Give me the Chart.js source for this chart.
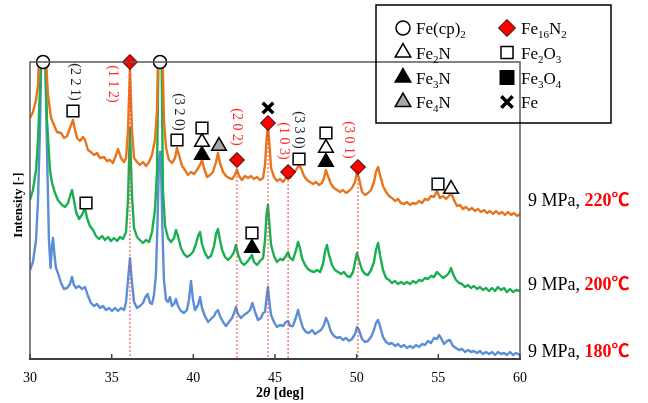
<!DOCTYPE html>
<html>
<head>
<meta charset="utf-8">
<script src="https://cdn.jsdelivr.net/npm/chart.js@4.4.0/dist/chart.umd.min.js"></script>
<style>
html, body { margin: 0; padding: 0; background: #fff; }
#wrap { width: 648px; height: 403px; position: relative; }
</style>
</head>
<body>
<div id="wrap"><canvas id="xrd"></canvas></div>
<script>
var SERIF = "'Liberation Serif', 'Times New Roman', 'Noto Sans CJK JP', serif";

// XRD scans, [2theta (deg), intensity (offset, arb. units)]
var scan220 = [[30.00,241],[30.18,247],[30.37,259],[30.49,274],[30.61,330],[30.80,420],[30.98,300],[31.10,264],[31.29,241],[31.47,234],[31.65,227],[31.90,226],[32.08,221],[32.27,223],[32.45,231],[32.63,239],[32.76,229],[32.88,221],[33.06,218],[33.24,222],[33.37,219],[33.55,209],[33.73,207],[33.92,204],[34.10,206],[34.29,201],[34.53,202],[34.71,198],[34.90,199],[35.08,196],[35.27,204],[35.39,210],[35.57,201],[35.76,197],[35.88,201],[36.00,229],[36.12,291],[36.24,229],[36.37,201],[36.55,197],[36.73,194],[36.92,197],[37.10,193],[37.29,197],[37.47,204],[37.65,219],[37.78,249],[37.87,330],[37.96,420],[38.08,330],[38.20,239],[38.33,211],[38.51,199],[38.69,196],[38.88,201],[39.00,211],[39.12,204],[39.31,193],[39.49,189],[39.67,184],[39.86,187],[40.04,185],[40.22,189],[40.41,194],[40.53,199],[40.65,191],[40.84,182],[41.02,184],[41.20,187],[41.39,197],[41.51,206],[41.63,196],[41.82,187],[42.00,183],[42.18,181],[42.37,180],[42.55,184],[42.67,189],[42.80,183],[42.98,179],[43.16,183],[43.35,181],[43.53,183],[43.71,180],[43.90,182],[44.08,179],[44.27,181],[44.39,194],[44.48,219],[44.57,233],[44.66,214],[44.76,191],[44.94,182],[45.12,178],[45.31,180],[45.49,177],[45.67,181],[45.80,184],[45.92,181],[46.10,185],[46.29,189],[46.47,194],[46.59,191],[46.78,183],[46.96,179],[47.14,177],[47.33,175],[47.51,177],[47.69,174],[47.88,176],[48.00,181],[48.12,189],[48.24,183],[48.43,175],[48.61,171],[48.80,169],[48.98,167],[49.16,169],[49.35,166],[49.53,168],[49.71,171],[49.90,177],[50.02,187],[50.14,181],[50.33,167],[50.51,164],[50.69,166],[50.88,169],[51.06,177],[51.18,187],[51.31,192],[51.43,184],[51.61,173],[51.80,167],[51.98,163],[52.16,161],[52.35,158],[52.53,160],[52.71,156],[52.90,155],[53.08,157],[53.27,154],[53.45,156],[53.63,155],[53.82,158],[54.00,156],[54.18,160],[54.37,159],[54.55,163],[54.73,162],[54.92,168],[55.10,161],[55.29,163],[55.47,160],[55.65,163],[55.78,166],[55.96,159],[56.14,153],[56.33,154],[56.51,150],[56.69,152],[56.88,149],[57.06,151],[57.24,148],[57.43,150],[57.61,147],[57.80,149],[57.98,146],[58.16,148],[58.35,145],[58.53,148],[58.71,145],[58.90,147],[59.08,144],[59.27,147],[59.45,144],[59.63,146],[59.82,143],[60.00,145]];

var scan200 = [[30.00,159],[30.18,169],[30.37,189],[30.49,219],[30.61,269],[30.70,310],[30.80,420],[30.92,310],[31.04,239],[31.22,189],[31.35,176],[31.53,166],[31.71,159],[31.96,154],[32.14,152],[32.33,156],[32.45,163],[32.57,169],[32.69,159],[32.82,147],[33.00,140],[33.18,144],[33.37,151],[33.49,141],[33.67,133],[33.86,129],[34.04,123],[34.22,120],[34.41,123],[34.59,119],[34.78,122],[34.96,118],[35.14,121],[35.33,118],[35.51,122],[35.69,120],[35.88,127],[36.00,159],[36.12,231],[36.24,164],[36.37,131],[36.55,122],[36.73,119],[36.92,116],[37.10,119],[37.29,117],[37.47,127],[37.65,149],[37.78,189],[37.87,310],[37.96,420],[38.05,310],[38.14,169],[38.27,133],[38.45,121],[38.63,117],[38.82,121],[38.94,129],[39.06,123],[39.24,111],[39.43,105],[39.61,102],[39.80,104],[39.98,107],[40.16,115],[40.29,123],[40.41,127],[40.53,115],[40.71,106],[40.90,101],[41.08,103],[41.27,113],[41.39,125],[41.51,130],[41.63,119],[41.76,109],[41.94,102],[42.12,99],[42.31,102],[42.49,107],[42.61,114],[42.73,105],[42.92,97],[43.10,94],[43.29,97],[43.47,101],[43.59,104],[43.71,97],[43.90,94],[44.08,98],[44.27,101],[44.39,119],[44.48,144],[44.57,154],[44.66,134],[44.76,114],[44.94,103],[45.12,97],[45.31,100],[45.49,99],[45.67,103],[45.80,107],[45.92,101],[46.10,99],[46.29,109],[46.41,117],[46.53,111],[46.65,101],[46.84,94],[47.02,90],[47.20,88],[47.39,87],[47.57,89],[47.76,87],[47.94,95],[48.06,107],[48.18,114],[48.31,104],[48.49,94],[48.67,89],[48.86,87],[49.04,85],[49.22,87],[49.41,83],[49.59,82],[49.78,87],[49.90,97],[50.02,106],[50.14,99],[50.33,89],[50.51,85],[50.69,84],[50.88,89],[51.06,97],[51.18,109],[51.31,116],[51.43,104],[51.61,89],[51.80,81],[51.98,79],[52.16,76],[52.35,78],[52.53,75],[52.71,77],[52.90,75],[53.08,77],[53.27,75],[53.45,78],[53.63,76],[53.82,79],[54.00,78],[54.18,81],[54.37,80],[54.55,83],[54.73,82],[54.92,87],[55.10,84],[55.29,81],[55.47,83],[55.65,86],[55.78,91],[55.90,85],[56.08,79],[56.27,76],[56.45,75],[56.63,72],[56.82,74],[57.00,71],[57.18,73],[57.37,70],[57.55,72],[57.73,69],[57.92,71],[58.10,68],[58.29,71],[58.47,68],[58.65,72],[58.84,69],[59.02,71],[59.20,67],[59.39,70],[59.57,67],[59.76,69],[60.00,68]];

var scan180 = [[30.00,89],[30.18,97],[30.37,119],[30.49,159],[30.61,229],[30.70,310],[30.80,420],[30.92,310],[31.04,209],[31.16,119],[31.26,91],[31.35,114],[31.41,121],[31.50,104],[31.59,91],[31.71,86],[31.90,76],[32.08,70],[32.27,71],[32.45,75],[32.57,82],[32.69,74],[32.82,71],[33.00,73],[33.18,70],[33.37,72],[33.55,63],[33.73,56],[33.92,53],[34.10,55],[34.29,51],[34.47,53],[34.65,49],[34.84,51],[35.02,48],[35.20,51],[35.39,48],[35.57,51],[35.76,49],[35.88,57],[36.00,79],[36.12,101],[36.24,77],[36.37,57],[36.55,51],[36.73,53],[36.92,56],[37.04,61],[37.20,65],[37.35,56],[37.47,55],[37.59,64],[37.71,84],[37.81,139],[37.90,199],[37.96,207],[38.02,194],[38.11,129],[38.20,79],[38.33,59],[38.45,57],[38.57,62],[38.69,53],[38.82,55],[38.94,60],[39.06,53],[39.24,48],[39.43,46],[39.61,49],[39.73,59],[39.86,78],[39.98,59],[40.10,49],[40.29,54],[40.41,62],[40.53,51],[40.71,43],[40.90,37],[41.08,40],[41.27,43],[41.39,47],[41.51,49],[41.63,43],[41.82,37],[42.00,33],[42.18,37],[42.37,41],[42.52,47],[42.61,52],[42.73,45],[42.92,41],[43.10,44],[43.29,46],[43.47,49],[43.62,56],[43.78,47],[43.96,39],[44.14,41],[44.27,46],[44.39,47],[44.48,61],[44.57,72],[44.66,56],[44.76,44],[44.94,37],[45.12,32],[45.31,34],[45.49,33],[45.67,37],[45.80,38],[45.92,33],[46.10,33],[46.29,42],[46.41,49],[46.53,41],[46.71,31],[46.90,27],[47.08,26],[47.27,29],[47.45,25],[47.63,27],[47.82,29],[48.00,34],[48.12,41],[48.24,37],[48.43,27],[48.61,23],[48.80,21],[48.98,22],[49.16,19],[49.35,21],[49.53,18],[49.71,20],[49.90,25],[50.02,32],[50.14,29],[50.33,20],[50.51,17],[50.69,18],[50.88,22],[51.06,29],[51.18,36],[51.31,39],[51.43,33],[51.61,22],[51.80,17],[51.98,15],[52.16,16],[52.35,13],[52.53,15],[52.71,12],[52.90,14],[53.08,11],[53.27,13],[53.45,11],[53.63,14],[53.82,12],[54.00,15],[54.18,14],[54.37,18],[54.55,16],[54.73,21],[54.92,20],[55.04,24],[55.16,21],[55.35,15],[55.53,18],[55.71,19],[55.90,13],[56.08,11],[56.27,9],[56.45,10],[56.63,7],[56.82,9],[57.00,7],[57.18,8],[57.37,6],[57.55,8],[57.73,5],[57.92,7],[58.10,5],[58.29,7],[58.47,4],[58.65,7],[58.84,5],[59.02,6],[59.20,4],[59.39,7],[59.57,4],[59.76,6],[60.00,4]];

// phase markers (2theta, height)
var fecpX = [30.80, 37.96];             var fecpY = [297, 297];
var fe16X = [36.12, 42.67, 44.57, 45.80, 50.08]; var fe16Y = [297, 199, 236, 187, 192];
var fe2o3X = [32.63, 33.43, 39.00, 40.53, 43.59, 46.47, 48.12, 54.98];
var fe2o3Y = [248, 156, 219, 231, 126, 200, 226, 175];
var fe2nX = [40.53, 48.12, 55.78];      var fe2nY = [217, 211, 170];
var fe3nX = [40.53, 43.59, 48.12];      var fe3nY = [204, 111, 197];
var fe4nX = [41.57];                    var fe4nY = [213];
var feX = [44.57];                      var feY = [251];

// hkl labels of Fe16N2 / Fe2O3
var hklText = ['(2 2 1)', '(1 1 2)', '(3 2 0)', '(2 0 2)', '(1 0 3)', '(3 3 0)', '(3 0 1)'];
var hklX = [32.76, 35.08, 39.12, 42.67, 45.55, 46.47, 49.50];
var hklY = [277, 275, 247, 232, 218, 229, 219];
var hklRed = [false, true, false, true, true, false, true];

var runTemp = ['220℃', '200℃', '180℃'];
var runLevel = [158, 74, 7];

var xTicks = [30, 35, 40, 45, 50, 55, 60];

function toPoints(arr) {
    var out = [];
    for (let i = 0; i < arr.length; i++) out.push({x: arr[i][0], y: arr[i][1]});
    return out;
}
function zip(xs, ys) {
    var out = [];
    for (let i = 0; i < xs.length; i++) out.push({x: xs[i], y: ys[i]});
    return out;
}
function scanSet(arr, color, ord) {
    return { data: toPoints(arr), borderColor: color, borderWidth: 2.4, pointRadius: 0, tension: 0,
        borderJoinStyle: 'round', order: ord };
}
function markSet(xs, ys, style, r, fill, bw) {
    return { data: zip(xs, ys), showLine: false, pointStyle: style, pointRadius: r,
        pointBackgroundColor: fill, pointBorderColor: '#000', pointBorderWidth: bw, clip: false, order: 0 };
}

var datasets = [
    markSet(fecpX, fecpY, 'circle', 6.5, '#fff', 1.5),
    markSet(fe16X, fe16Y, 'rectRot', 7.5, '#ff0000', 1),
    markSet(fe2o3X, fe2o3Y, 'rect', 8.3, '#fff', 1.5),
    markSet(fe2nX, fe2nY, 'triangle', 8.5, '#fff', 1.5),
    markSet(fe3nX, fe3nY, 'triangle', 8.5, '#000', 1.5),
    markSet(fe4nX, fe4nY, 'triangle', 8.5, '#a6a6a6', 1.5),
    markSet(feX, feY, 'crossRot', 7.5, '#000', 3.5)
];
// red dotted guide lines under Fe16N2 peaks
for (let i = 0; i < fe16X.length; i++) {
    datasets.push({ data: [{x: fe16X[i], y: fe16Y[i]}, {x: fe16X[i], y: 0}], borderColor: '#ff3b3b',
        borderWidth: 1, borderDash: [2, 2], pointRadius: 0, order: 1 });
}
datasets.push(scanSet(scan220, '#e8741c', 2));
datasets.push(scanSet(scan200, '#1aaf50', 3));
datasets.push(scanSet(scan180, '#5b8ed6', 4));

function richText(ctx, str, x, y, size, color) {
    var parts = str.split(/(_\{[^}]*\})/);
    ctx.fillStyle = color;
    ctx.textAlign = 'left';
    ctx.textBaseline = 'alphabetic';
    for (const p of parts) {
        if (!p) continue;
        if (p.indexOf('_{') === 0) {
            var t = p.slice(2, -1);
            ctx.font = Math.round(size * 0.65) + 'px ' + SERIF;
            ctx.fillText(t, x, y + size * 0.25);
            x += ctx.measureText(t).width;
        } else {
            ctx.font = size + 'px ' + SERIF;
            ctx.fillText(p, x, y);
            x += ctx.measureText(p).width;
        }
    }
}
function marker(ctx, style, r, fill, bw, x, y) {
    ctx.save();
    ctx.fillStyle = fill;
    ctx.strokeStyle = '#000';
    ctx.lineWidth = bw;
    Chart.helpers.drawPoint(ctx, {pointStyle: style, radius: r, borderWidth: bw, rotation: 0}, x, y);
    ctx.restore();
}

var legendLeft = [['circle', 7, '#fff', 1.5, 'Fe(cp)_{2}'], ['triangle', 9, '#fff', 1.5, 'Fe_{2}N'],
                  ['triangle', 9, '#000', 1.5, 'Fe_{3}N'], ['triangle', 9, '#a6a6a6', 1.5, 'Fe_{4}N']];
var legendRight = [['rectRot', 8.5, '#ff0000', 1, 'Fe_{16}N_{2}'], ['rect', 8.5, '#fff', 1.5, 'Fe_{2}O_{3}'],
                   ['rect', 9.5, '#000', 1.5, 'Fe_{3}O_{4}'], ['crossRot', 8, '#000', 3.5, 'Fe']];

var decor = {
    id: 'decor',
    afterDatasetsDraw(chart) {
        var ctx = chart.ctx, xs = chart.scales.x, ys = chart.scales.y;
        ctx.save();
        ctx.font = '14px ' + SERIF;
        ctx.textAlign = 'center';
        ctx.textBaseline = 'middle';
        for (let i = 0; i < hklText.length; i++) {
            ctx.save();
            ctx.translate(xs.getPixelForValue(hklX[i]), ys.getPixelForValue(hklY[i]));
            ctx.rotate(Math.PI / 2);
            ctx.fillStyle = hklRed[i] ? '#ff2a2a' : '#222';
            ctx.fillText(hklText[i], 0, 0);
            ctx.restore();
        }
        ctx.restore();
    },
    afterDraw(chart) {
        var ctx = chart.ctx, a = chart.chartArea, xs = chart.scales.x, ys = chart.scales.y;
        ctx.save();
        // plot frame
        ctx.strokeStyle = '#5a5a5a';
        ctx.lineWidth = 1.5;
        ctx.strokeRect(a.left, a.top, a.right - a.left, a.bottom - a.top);
        ctx.strokeStyle = '#404040';
        ctx.lineWidth = 2;
        ctx.beginPath();
        ctx.moveTo(a.left - 1, a.bottom);
        ctx.lineTo(a.right + 1, a.bottom);
        ctx.stroke();
        // inward tick marks
        ctx.lineWidth = 1.5;
        xs.ticks.forEach(function (t) {
            var px = xs.getPixelForValue(t.value);
            ctx.beginPath();
            ctx.moveTo(px, a.bottom);
            ctx.lineTo(px, a.bottom - 5);
            ctx.stroke();
        });
        // axis titles
        ctx.fillStyle = '#000';
        ctx.textBaseline = 'middle';
        ctx.textAlign = 'left';
        var f1 = 'bold 14px ' + SERIF, f2 = 'italic bold 14px ' + SERIF;
        ctx.font = f1; var w1 = ctx.measureText('2').width, w3 = ctx.measureText(' [deg]').width;
        ctx.font = f2; var w2 = ctx.measureText('θ').width;
        var tx = 280 - (w1 + w2 + w3) / 2;
        ctx.font = f1; ctx.fillText('2', tx, 393);
        ctx.font = f2; ctx.fillText('θ', tx + w1, 393);
        ctx.font = f1; ctx.fillText(' [deg]', tx + w1 + w2, 393);
        ctx.save();
        ctx.translate(19, 205);
        ctx.rotate(-Math.PI / 2);
        ctx.textAlign = 'center';
        ctx.font = 'bold 13px ' + SERIF;
        ctx.fillText('Intensity [-]', 0, 0);
        ctx.restore();
        // run labels at the right
        for (let i = 0; i < runTemp.length; i++) {
            var py = ys.getPixelForValue(runLevel[i]);
            ctx.textAlign = 'left';
            ctx.font = '18px ' + SERIF;
            ctx.fillStyle = '#000';
            ctx.fillText('9 MPa, ', 528, py);
            var pw = ctx.measureText('9 MPa, ').width;
            ctx.font = 'bold 18px ' + SERIF;
            ctx.fillStyle = '#ff0000';
            ctx.fillText(runTemp[i], 528 + pw, py);
        }
        // legend box
        ctx.strokeStyle = '#000';
        ctx.lineWidth = 1.5;
        ctx.strokeRect(376, 5, 235, 118);
        var rows = [28, 52.5, 77.5, 102];
        for (let i = 0; i < 4; i++) {
            var L = legendLeft[i], R = legendRight[i];
            marker(ctx, L[0], L[1], L[2], L[3], 403, rows[i]);
            richText(ctx, L[4], 416, rows[i] + 6, 17, '#000');
            marker(ctx, R[0], R[1], R[2], R[3], 507, rows[i]);
            richText(ctx, R[4], 521, rows[i] + 6, 17, '#000');
        }
        ctx.restore();
    }
};

var ctx = document.getElementById('xrd').getContext('2d');
var chart = new Chart(ctx, {
    type: 'line',
    data: { datasets: datasets },
    options: {
        responsive: true,
        maintainAspectRatio: false,
        animation: false,
        events: [],
        layout: { padding: { left: 30, right: 128, top: 62, bottom: 0 } },
        scales: {
            x: {
                type: 'linear',
                min: 30,
                max: 60,
                afterBuildTicks: function (scale) { scale.ticks = xTicks.map(function (v) { return {value: v}; }); },
                afterFit: function (scale) { scale.height = 44; },
                grid: { display: false, drawTicks: false },
                border: { display: false },
                ticks: { padding: 11, color: '#000', font: { family: SERIF, size: 14 }, maxRotation: 0 }
            },
            y: {
                display: false,
                min: 0,
                max: 297
            }
        },
        plugins: {
            legend: { display: false },
            tooltip: { enabled: false }
        }
    },
    plugins: [decor]
});
</script>
</body>
</html>
